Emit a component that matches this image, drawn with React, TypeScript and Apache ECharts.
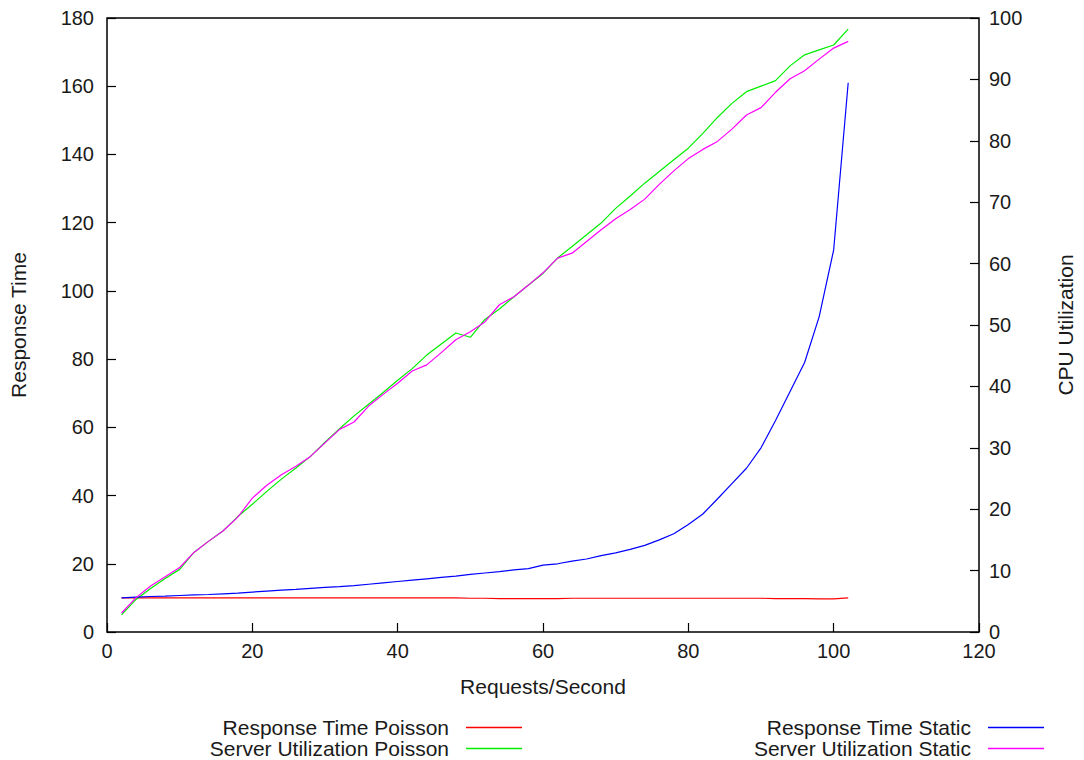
import React, { useEffect, useRef } from "react";
import * as echarts from "echarts";

const xValues = [2, 4, 6, 8, 10, 12, 14, 16, 18, 20, 22, 24, 26, 28, 30, 32, 34, 36, 38, 40, 42, 44, 46, 48, 50, 52, 54, 56, 58, 60, 62, 64, 66, 68, 70, 72, 74, 76, 78, 80, 82, 84, 86, 88, 90, 92, 94, 96, 98, 100, 102];

const responsePoisson = [10.0, 10.0, 10.0, 10.0, 10.0, 10.0, 10.0, 10.0, 10.0, 10.0, 10.0, 10.0, 10.0, 10.0, 10.0, 10.0, 10.0, 10.0, 10.0, 10.0, 10.0, 10.0, 10.0, 10.0, 9.9, 9.9, 9.8, 9.8, 9.8, 9.8, 9.8, 9.9, 9.9, 9.9, 9.9, 9.9, 9.9, 9.9, 9.9, 9.9, 9.9, 9.9, 9.9, 9.9, 9.9, 9.8, 9.8, 9.8, 9.7, 9.7, 10.0];

const utilPoisson = [2.8, 5.3, 7.1, 8.7, 10.2, 13.0, 14.8, 16.5, 18.8, 20.8, 22.9, 24.9, 26.7, 28.6, 30.9, 33.1, 35.2, 37.1, 39.0, 41.0, 42.9, 45.1, 46.9, 48.7, 48.0, 50.9, 52.6, 54.6, 56.5, 58.4, 60.9, 62.8, 64.7, 66.6, 69.0, 71.0, 73.1, 75.0, 76.9, 78.8, 81.2, 83.8, 86.1, 88.0, 88.9, 89.8, 92.2, 94.0, 94.8, 95.6, 98.2];

const responseStatic = [10.0, 10.2, 10.4, 10.5, 10.7, 10.9, 11.0, 11.2, 11.4, 11.7, 12.0, 12.3, 12.5, 12.8, 13.1, 13.3, 13.6, 14.0, 14.4, 14.8, 15.2, 15.6, 16.0, 16.4, 16.9, 17.3, 17.7, 18.2, 18.6, 19.6, 20.0, 20.8, 21.4, 22.4, 23.2, 24.2, 25.4, 27.0, 28.8, 31.5, 34.6, 39.0, 43.5, 48.0, 54.0, 62.0, 70.5, 79.0, 92.4, 112.0, 161.0];

const utilStatic = [3.1, 5.6, 7.5, 9.0, 10.5, 13.0, 14.8, 16.5, 18.7, 21.8, 23.9, 25.6, 27.0, 28.6, 30.8, 33.0, 34.2, 36.8, 38.7, 40.5, 42.5, 43.5, 45.5, 47.6, 48.9, 50.5, 53.3, 54.6, 56.5, 58.5, 60.9, 61.7, 63.6, 65.5, 67.3, 68.8, 70.5, 72.9, 75.1, 77.1, 78.6, 79.9, 81.9, 84.2, 85.4, 87.9, 90.1, 91.4, 93.3, 95.1, 96.2];

const seriesNames = [
  "Response Time Poisson",
  "Server Utilization Poisson",
  "Response Time Static",
  "Server Utilization Static",
];
const seriesColors = ["#ff0000", "#00ee00", "#0000ff", "#ff00ff"];

const FONT = "'Liberation Sans', Arial, Helvetica, sans-serif";
const TEXT_COLOR = "#1a1a1a";

function pairs(ys: number[]) {
  return xValues.map((x, i) => [x, ys[i]]);
}

export default function App() {
  const ref = useRef<HTMLDivElement>(null);

  useEffect(() => {
    if (!ref.current) return;
    const chart = echarts.init(ref.current, null, { renderer: "svg" });

    const tickStyle = { show: true, inside: true, length: 9, lineStyle: { color: "#000", width: 1.2 } };
    const labelStyle = { color: TEXT_COLOR, fontSize: 20, fontFamily: FONT };

    const legendPos = [
      { right: 562, top: 717 },
      { right: 562, top: 738 },
      { right: 40, top: 717 },
      { right: 40, top: 738 },
    ];

    const allData = [responsePoisson, utilPoisson, responseStatic, utilStatic];

    chart.setOption({
      animation: false,
      backgroundColor: "#ffffff",
      grid: {
        left: 107,
        right: 99,
        top: 18,
        bottom: 128,
        show: true,
        borderColor: "#000",
        borderWidth: 1.5,
        backgroundColor: "transparent",
        containLabel: false,
      },
      legend: seriesNames.map((name, i) => ({
        data: [name],
        right: legendPos[i].right,
        top: legendPos[i].top,
        orient: "horizontal",
        align: "right",
        icon: "rect",
        itemWidth: 56,
        itemHeight: 1.5,
        padding: 0,
        selectedMode: false,
        textStyle: {
          color: TEXT_COLOR,
          fontSize: 21,
          fontFamily: FONT,
          lineHeight: 20,
          padding: [0, 12, 0, 0],
        },
      })),
      xAxis: {
        type: "value",
        min: 0,
        max: 120,
        interval: 20,
        name: "Requests/Second",
        nameLocation: "middle",
        nameGap: 44,
        nameTextStyle: { color: TEXT_COLOR, fontSize: 21, fontFamily: FONT },
        axisLine: { show: false },
        axisTick: tickStyle,
        axisLabel: { ...labelStyle, margin: 9 },
        splitLine: { show: false },
      },
      yAxis: [
        {
          type: "value",
          min: 0,
          max: 180,
          interval: 20,
          position: "left",
          name: "Response Time",
          nameLocation: "middle",
          nameRotate: 90,
          nameGap: 78,
          nameTextStyle: { color: TEXT_COLOR, fontSize: 21, fontFamily: FONT },
          axisLine: { show: false },
          axisTick: tickStyle,
          axisLabel: { ...labelStyle, margin: 13 },
          splitLine: { show: false },
        },
        {
          type: "value",
          min: 0,
          max: 100,
          interval: 10,
          position: "right",
          name: "CPU Utilization",
          nameLocation: "middle",
          nameRotate: 90,
          nameGap: 76,
          nameTextStyle: { color: TEXT_COLOR, fontSize: 21, fontFamily: FONT },
          axisLine: { show: false },
          axisTick: tickStyle,
          axisLabel: { ...labelStyle, margin: 10 },
          splitLine: { show: false },
        },
      ],
      series: seriesNames.map((name, i) => ({
        name,
        type: "line",
        yAxisIndex: i % 2 === 1 ? 1 : 0,
        data: pairs(allData[i]),
        symbol: "none",
        showSymbol: false,
        smooth: false,
        color: seriesColors[i],
        lineStyle: { color: seriesColors[i], width: 1.2 },
        z: 2 + i,
      })),
    });

    return () => chart.dispose();
  }, []);

  return (
    <div
      ref={ref}
      style={{ position: "fixed", left: 0, top: 0, width: 1084, height: 760, background: "#fff" }}
    />
  );
}
